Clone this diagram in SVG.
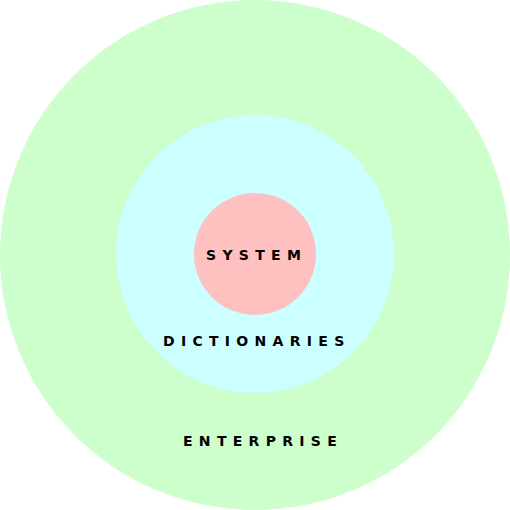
<svg xmlns="http://www.w3.org/2000/svg" width="510" height="510" viewBox="0 0 510 510">
<style>
text{font-family:"DejaVu Sans",sans-serif;font-weight:bold;font-size:14px;letter-spacing:6.3px;fill:#000}
</style>
<rect width="510" height="510" fill="#ffffff"/>
<g id="enterprise"><circle cx="255" cy="255" r="255" fill="#ccffcc"/><text x="183" y="446">ENTERPRISE</text></g>
<g id="dictionaries"><circle cx="255" cy="254" r="139" fill="#ccffff"/><text x="163" y="346">DICTIONARIES</text></g>
<g id="system"><circle cx="255" cy="254" r="61" fill="#ffc0c0"/><text x="206" y="260">SYSTEM</text></g>
<g id="connectors"/>
</svg>
